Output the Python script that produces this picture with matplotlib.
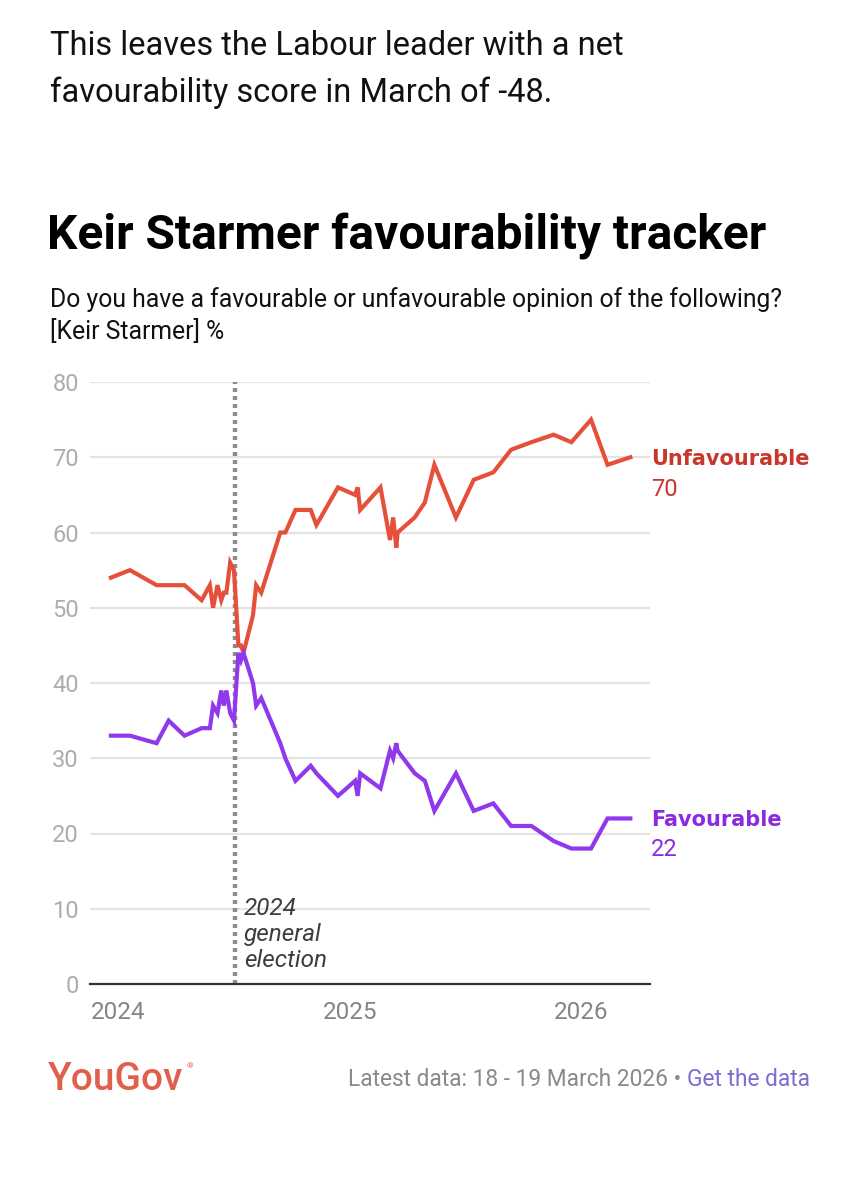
import numpy as np
import pandas as pd
import matplotlib
matplotlib.use("Agg")
import matplotlib.pyplot as plt
import matplotlib.dates as mdates

#====================================================
# Data (read off the YouGov tracker)
#====================================================

dates = ["2023-12-21", "2024-01-20", "2024-03-02", "2024-03-21", "2024-04-15",
         "2024-05-12", "2024-05-25", "2024-05-30", "2024-06-06", "2024-06-12",
         "2024-06-16", "2024-06-20", "2024-06-26", "2024-07-02", "2024-07-09",
         "2024-07-13", "2024-07-17", "2024-08-01", "2024-08-06", "2024-08-14",
         "2024-08-29", "2024-09-13", "2024-09-21", "2024-10-07", "2024-10-31",
         "2024-11-09", "2024-12-13", "2025-01-09", "2025-01-13", "2025-01-17",
         "2025-02-18", "2025-03-05", "2025-03-10", "2025-03-15", "2025-03-17",
         "2025-04-13", "2025-04-29", "2025-05-14", "2025-06-17", "2025-07-15",
         "2025-08-15", "2025-09-12", "2025-10-14", "2025-11-18", "2025-12-16",
         "2026-01-16", "2026-02-11", "2026-03-19"]

unfavourable = [54, 55, 53, 53, 53, 51, 53, 50, 53, 51,
                52, 52, 56, 55, 45, 45, 44, 49, 53, 52,
                56, 60, 60, 63, 63, 61, 66, 65, 66, 63,
                66, 59, 62, 58, 60, 62, 64, 69, 62, 67,
                68, 71, 72, 73, 72, 75, 69, 70]

favourable = [33, 33, 32, 35, 33, 34, 34, 37, 36, 39,
              37, 39, 36, 35, 44, 43, 44, 40, 37, 38,
              35, 32, 30, 27, 29, 28, 25, 27, 25, 28,
              26, 31, 30, 32, 31, 28, 27, 23, 28, 23,
              24, 21, 21, 19, 18, 18, 22, 22]

election_date = "2024-07-04"
year_ticks = ["2024-01-01", "2025-01-01", "2026-01-01"]
year_labels = ["2024", "2025", "2026"]
y_ticks = [0, 10, 20, 30, 40, 50, 60, 70, 80]

#====================================================
# Style
#====================================================

W, H = 859, 1200
RED = "#e5503b"
RED_LABEL = "#c9372c"
PURPLE = "#8f38ec"
PURPLE_LABEL = "#8a2be2"
GRID = "#e3e3e3"
TEXT = "#111111"

plt.rcParams['font.family'] = ['Roboto', 'DejaVu Sans']

fig = plt.figure(figsize=(W / 100, H / 100), dpi=100)
fig.patch.set_facecolor("white")


def px(x, y):
    # pixel coords (from top-left) -> figure fraction
    return x / W, 1 - y / H


#====================================================
# Header text
#====================================================

fig.text(*px(50, 46), "This leaves the Labour leader with a net",
         fontsize=23.5, color=TEXT, va="center", ha="left")
fig.text(*px(50, 93), "favourability score in March of -48.",
         fontsize=23.5, color=TEXT, va="center", ha="left")

fig.text(*px(47, 237), "Keir Starmer favourability tracker",
         fontsize=34.5, fontweight="bold", color="#000000",
         va="center", ha="left")

fig.text(*px(50, 300),
         "Do you have a favourable or unfavourable opinion of the following?",
         fontsize=17.8, color=TEXT, va="center", ha="left")
fig.text(*px(50, 332), "[Keir Starmer] %",
         fontsize=17.8, color=TEXT, va="center", ha="left")

#====================================================
# Actual plot
#====================================================

left, right, top, bottom = 90, 650, 382, 984
ax = fig.add_axes([left / W, 1 - bottom / H, (right - left) / W, (bottom - top) / H])

d = pd.to_datetime(dates)
ax.plot(d, unfavourable, color=RED, lw=3, solid_joinstyle="miter", zorder=4)
ax.plot(d, favourable, color=PURPLE, lw=3, solid_joinstyle="miter", zorder=4)

ax.set_xlim(pd.Timestamp("2023-11-18"), pd.Timestamp("2026-04-19"))
ax.set_ylim(0, 80)

ax.set_yticks(y_ticks)
ax.yaxis.grid(True, color=GRID, lw=1.6)
ax.set_axisbelow(True)
ax.tick_params(axis="y", length=0, pad=8, labelsize=17, labelcolor="#adadad")

ax.set_xticks(pd.to_datetime(year_ticks))
ax.set_xticklabels(year_labels)
ax.tick_params(axis="x", length=0, pad=12, labelsize=17.5, labelcolor="#858585")

for s in ["top", "right", "left"]:
    ax.spines[s].set_visible(False)
ax.spines["bottom"].set_color("#333333")
ax.spines["bottom"].set_linewidth(1.6)
ax.spines["bottom"].set_zorder(5)

# election marker
ed = pd.Timestamp(election_date)
ax.axvline(ed, color="#8c8c8c", lw=3.2, linestyle=(0, (0.9, 0.9)), zorder=3)
ax.text(ed + pd.Timedelta(days=14), 11.6, "2024\ngeneral\nelection",
        fontsize=17.5, style="italic", color="#3d3d3d", va="top", ha="left",
        linespacing=1.18, zorder=6)

# end labels
fig.text(*px(651, 459), "Unfavourable", fontsize=15, fontweight="bold",
         family="DejaVu Sans", color=RED_LABEL, va="center", ha="left")
fig.text(*px(651, 489), str(unfavourable[-1]), fontsize=17,
         color=RED_LABEL, va="center", ha="left")
fig.text(*px(651, 820), "Favourable", fontsize=15, fontweight="bold",
         family="DejaVu Sans", color=PURPLE_LABEL, va="center", ha="left")
fig.text(*px(651, 850), str(favourable[-1]), fontsize=17,
         color=PURPLE_LABEL, va="center", ha="left")

#====================================================
# Footer
#====================================================

fig.text(*px(48, 1079), "YouGov", fontsize=28, fontweight="medium",
         color="#e0604c", va="center", ha="left")
fig.text(*px(187, 1066), "\u00ae", fontsize=6, color="#e0604c",
         va="center", ha="left")

t2 = fig.text(*px(810, 1079), "Get the data", fontsize=16.4,
              color="#7a6fd0", va="center", ha="right")
fig.canvas.draw()
bb = t2.get_window_extent()
fig.text(bb.x0 / W, 1 - 1079 / H, "Latest data: 18 - 19 March 2026 \u2022 ",
         fontsize=16.4, color="#8a8a8a", va="center", ha="right")

plt.savefig("out.png", dpi=100, facecolor="white")
